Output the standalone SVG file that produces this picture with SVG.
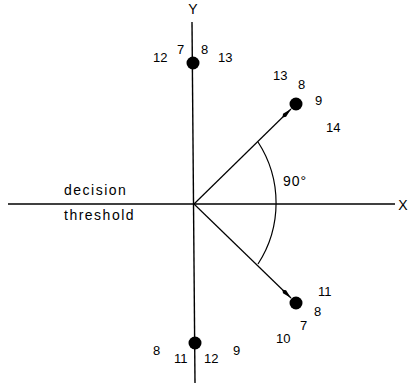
<svg xmlns="http://www.w3.org/2000/svg" width="409" height="383" viewBox="0 0 409 383">
<style>
text{font-family:"Liberation Sans",Arial,sans-serif;font-size:13px;fill:#000}
.lbl{font-size:14px;letter-spacing:1.5px}
.ax{stroke:#000;stroke-width:1.4;fill:none}
.ln{stroke:#000;stroke-width:1.2;fill:none}
.dot{fill:#000}
</style>
<defs>
<marker id="ah" markerWidth="12" markerHeight="6" refX="12" refY="3" orient="auto" markerUnits="userSpaceOnUse">
<path d="M0,3 L3,0.8 L12,3 L3,5.2 Z" fill="#000"/>
</marker>
</defs>
<rect width="409" height="383" fill="#fff"/>
<g id="connectors">
<line class="ax" x1="8" y1="204" x2="395" y2="204"/>
<line class="ax" x1="192" y1="22" x2="195" y2="383"/>
<line class="ln" x1="194" y1="204" x2="291" y2="109" marker-end="url(#ah)"/>
<line class="ln" x1="194" y1="204" x2="291" y2="298" marker-end="url(#ah)"/>
<path class="ln" d="M258,142 A112,112 0 0 1 258,264"/>
</g>
<g id="axis-labels">
<text x="193" y="14" text-anchor="middle" class="lbl" style="letter-spacing:0">Y</text>
<text x="403" y="210" text-anchor="middle" class="lbl" style="letter-spacing:0">X</text>
<text x="64" y="195" class="lbl">decision</text>
<text x="64" y="220" class="lbl">threshold</text>
<text x="283" y="186" class="lbl" style="letter-spacing:1px">90°</text>
</g>
<g id="node-top">
<circle class="dot" cx="193" cy="63" r="6.5"/>
<text x="153" y="62">12</text>
<text x="177" y="54">7</text>
<text x="201" y="54">8</text>
<text x="218" y="62">13</text>
</g>
<g id="node-upper-right">
<circle class="dot" cx="296" cy="104" r="6.5"/>
<text x="273" y="80">13</text>
<text x="298" y="89">8</text>
<text x="315" y="105">9</text>
<text x="326" y="132">14</text>
</g>
<g id="node-lower-right">
<circle class="dot" cx="296" cy="303" r="6.5"/>
<text x="318" y="296">11</text>
<text x="314" y="316">8</text>
<text x="300" y="330">7</text>
<text x="276" y="343">10</text>
</g>
<g id="node-bottom">
<circle class="dot" cx="195" cy="343" r="6.5"/>
<text x="153" y="355">8</text>
<text x="174" y="363">11</text>
<text x="204" y="363">12</text>
<text x="233" y="355">9</text>
</g>
</svg>
